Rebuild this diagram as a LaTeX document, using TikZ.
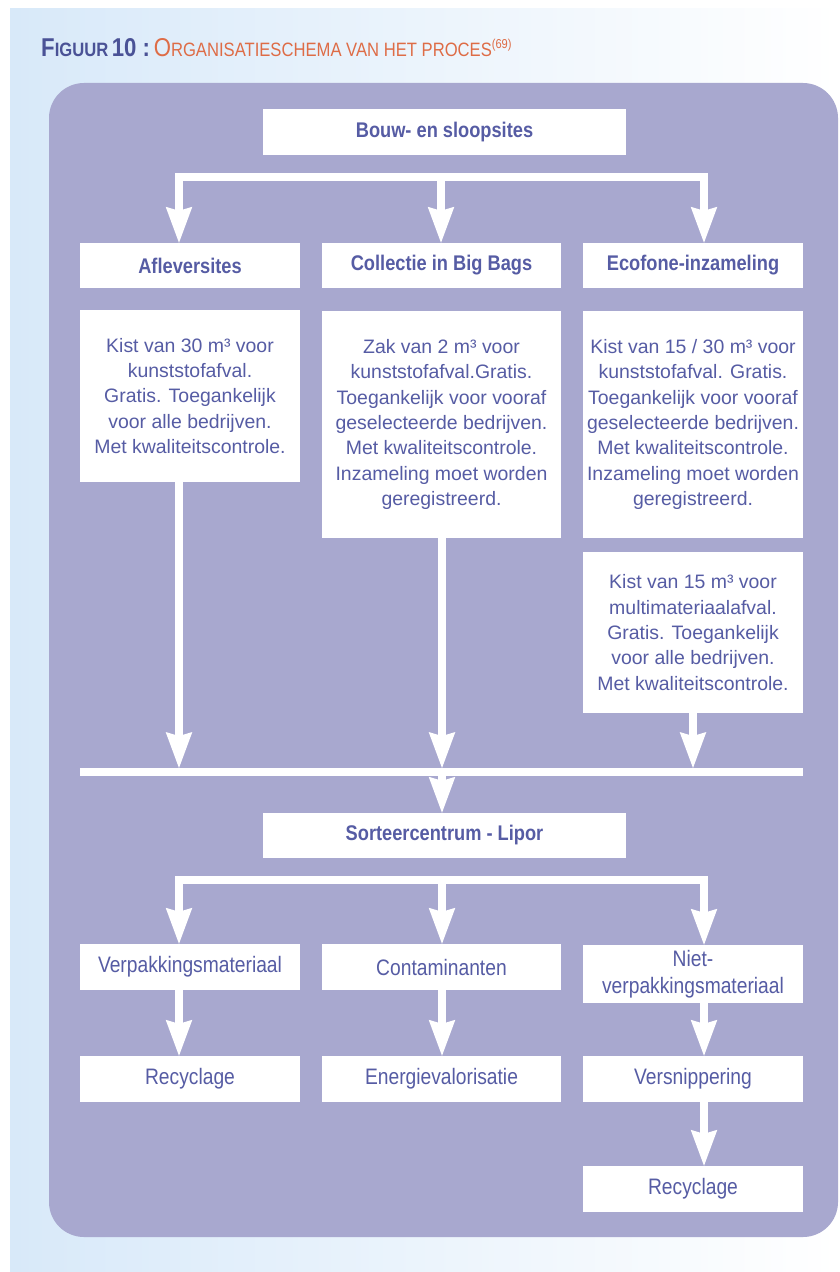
\documentclass[tikz,border=0pt]{standalone}
\usepackage{fontspec}
\setmainfont{Liberation Sans}
\newfontfamily\cnd{Liberation Sans}[FakeStretch=0.86]
\usetikzlibrary{arrows.meta}
\definecolor{paars}{RGB}{168,168,207}
\definecolor{tekst}{RGB}{86,92,164}
\definecolor{titelblauw}{RGB}{74,82,150}
\definecolor{oranje}{RGB}{222,108,70}
\definecolor{lichtblauw}{RGB}{216,233,249}
\newcommand{\kap}[2]{{\fontsize{22}{22}\selectfont #1}{\fontsize{16.5}{16.5}\selectfont #2}}
\tikzset{
    box/.style={fill=white, inner sep=0pt, align=center, text=tekst},
    tekstbox/.style={box, font=\fontsize{16.6}{21.6}\selectfont},
    kop/.style={box, font=\cnd\bfseries\fontsize{18.1}{20}\selectfont},
    stap/.style={box, font=\cnd\fontsize{19.1}{23}\selectfont},
    balk/.style={draw=white, line width=0.24cm},
    pijl/.style={draw=white, line width=0.24cm, -{Stealth[length=1.08cm, width=0.8cm, inset=0.12cm, line width=0pt]}}
}

\begin{document}
\begin{tikzpicture}[x=0.03cm, y=-0.03cm]
\useasboundingbox (0,0) rectangle (839,1272);
\shade[left color=lichtblauw, right color=white] (10,9) rectangle (839,1272);
\fill[paars, rounded corners=1.05cm] (49,83) rectangle (838,1237);
\node[anchor=base west, inner sep=0pt, font=\cnd] (titel) at (41,57) {\color{titelblauw}\bfseries\kap{F}{IGUUR}\hspace{0.3em}{\fontsize{22}{22}\selectfont 10 :} \color{oranje}\mdseries\kap{O}{RGANISATIESCHEMA VAN HET PROCES}\raisebox{0.7em}{\fontsize{11}{11}\selectfont(69)}};
% vakken
\foreach \x/\y/\w/\h/\p/\s/\t in {
444.5/132/363/46/bron/kop/{Bouw- en sloopsites},
190/265.5/220/45/afl/kop/{Afleversites},
441.5/265.5/239/45/big/kop/{Collectie in Big Bags},
693/265.5/220/45/eco/kop/{Ecofone-inzameling},
190/396/220/172/k30/tekstbox/{Kist van 30 m³ voor\\kunststofafval.\\Gratis. Toegankelijk\\voor alle bedrijven.\\Met kwaliteitscontrole.},
441.5/424.5/239/227/zak/tekstbox/{Zak van 2 m³ voor\\kunststofafval.Gratis.\\Toegankelijk voor vooraf\\geselecteerde bedrijven.\\Met kwaliteitscontrole.\\Inzameling moet worden\\geregistreerd.},
693/424.5/220/227/k15/tekstbox/{Kist van 15 / 30 m³ voor\\kunststofafval. Gratis.\\Toegankelijk voor vooraf\\geselecteerde bedrijven.\\Met kwaliteitscontrole.\\Inzameling moet worden\\geregistreerd.},
693/632.5/220/161/kmm/tekstbox/{Kist van 15 m³ voor\\multimateriaalafval.\\Gratis. Toegankelijk\\voor alle bedrijven.\\Met kwaliteitscontrole.},
444.5/835.5/363/45/sort/kop/{Sorteercentrum - Lipor},
190/967/220/46/verp/stap/{Verpakkingsmateriaal},
441.5/967/239/46/cont/stap/{Contaminanten},
693/974/220/58/niet/stap/{Niet-\\verpakkingsmateriaal},
190/1079/220/46/rec1/stap/{Recyclage},
441.5/1079/239/46/ener/stap/{Energievalorisatie},
693/1079/220/46/snip/stap/{Versnippering},
693/1189/220/46/rec2/stap/{Recyclage}}{
\node[\s, minimum width=\w*0.03cm, minimum height=\h*0.03cm] (\p) at (\x,\y) {\t};
}
% verdeling bovenaan
\coordinate (t1) at (179,177);
\coordinate (t2) at (441,177);
\coordinate (t3) at (704,177);
\draw[balk, line cap=rect] (t1) -- (t3);
\foreach \c/\n in {t1/afl, t2/big, t3/eco}
\draw[pijl] (\c) -- (\c |- \n.north);
% verzamelen
\coordinate (m1) at (179,772);
\coordinate (m2) at (442,772);
\coordinate (m3) at (693,772);
\draw[balk] (afl.west |- m1) -- (eco.east |- m1);
\foreach \c/\n in {m1/k30, m2/zak, m3/kmm}
\draw[pijl, shorten >=0.12cm] (\n.south -| \c) -- (\c);
\draw[pijl] (m2) -- (m2 |- sort.north);
% sorteren
\coordinate (u1) at (179,880);
\coordinate (u2) at (442,880);
\coordinate (u3) at (704,880);
\draw[balk, line cap=rect] (u1) -- (u3);
\foreach \c/\n in {u1/verp, u2/cont, u3/niet}
\draw[pijl] (\c) -- (\c |- \n.north);
\foreach \a/\b/\c in {verp/rec1/u1, cont/ener/u2, niet/snip/u3, snip/rec2/u3}
\draw[pijl] (\a.south -| \c) -- (\c |- \b.north);
\end{tikzpicture}
\end{document}
